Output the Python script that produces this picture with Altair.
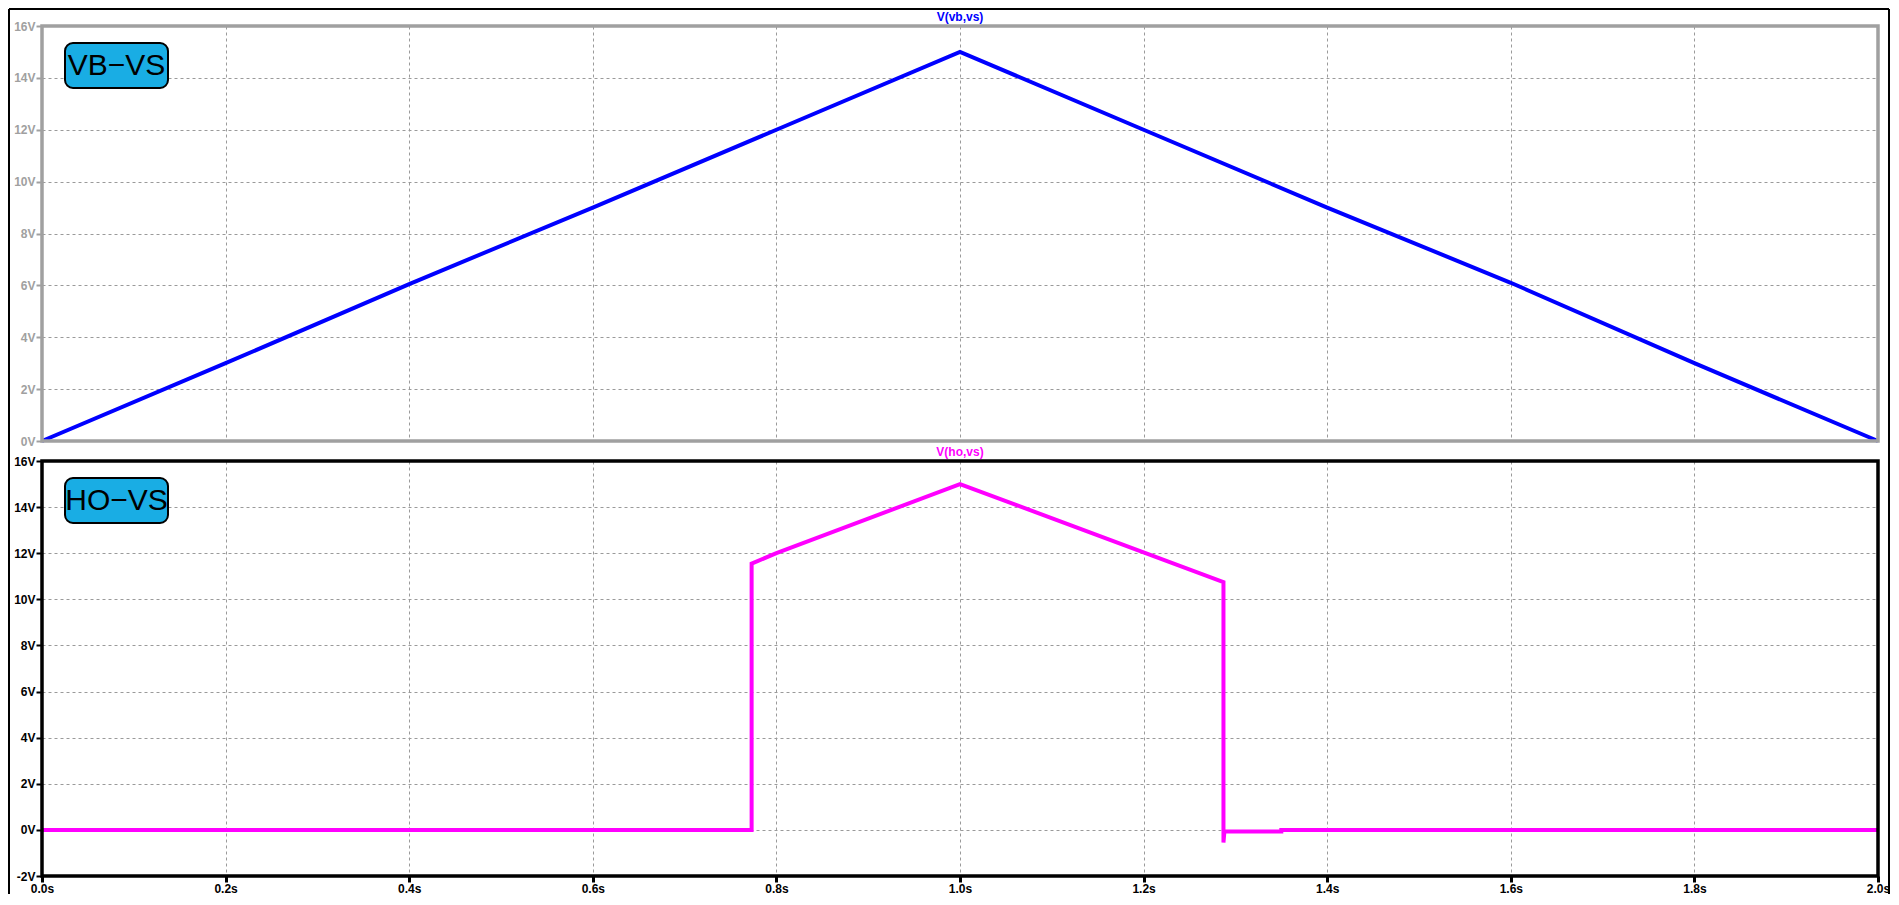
import altair as alt
import pandas as pd

# ---- data ----
# V(vb,vs)
top_t = [0.0, 0.2, 0.4, 0.6, 0.8, 1.0, 1.2, 1.4, 1.6, 1.8, 2.0]
top_v = [0.0, 3.0, 6.05, 9.0, 12.0, 15.0, 12.0, 9.0, 6.1, 3.0, 0.0]

# V(ho,vs)
bot_t = [0.0, 0.773, 0.773, 0.8, 1.0, 1.287, 1.287, 1.288, 1.35, 1.35, 2.0]
bot_v = [0.0, 0.0, 11.55, 12.0, 15.0, 10.75, -0.55, -0.07, -0.07, 0.0, 0.0]

x_ticks = [0.0, 0.2, 0.4, 0.6, 0.8, 1.0, 1.2, 1.4, 1.6, 1.8, 2.0]
y_ticks_top = [0, 2, 4, 6, 8, 10, 12, 14, 16]
y_ticks_bot = [-2, 0, 2, 4, 6, 8, 10, 12, 14, 16]

titles = ["V(vb,vs)", "V(ho,vs)"]
tags = ["VB\u2212VS", "HO\u2212VS"]

# ---- styling ----
W, H1, H2 = 1836, 415, 415
FONT = "Liberation Sans"
GRAY = "#a0a0a0"
BLUE = "#0000ff"
MAG = "#ff00ff"
TAGFILL = "#19ade4"
GRID = dict(grid=True, gridColor="#9a9a9a", gridDash=[3, 3], gridWidth=1)

xs = alt.Scale(domain=[0, 2], nice=False, zero=False)


def y_axis(vals, color):
    return alt.Axis(values=vals, labelExpr="datum.value + 'V'", labelFont=FONT,
                    labelFontWeight="bold", labelFontSize=12, labelColor=color,
                    tickColor=color, tickWidth=2, tickSize=6, labelPadding=1,
                    domain=False, title=None, **GRID)


def decorations(title, title_color, tag, border_color, h):
    tdf = pd.DataFrame({"t": [1.0], "label": [title]})
    title_mark = alt.Chart(tdf).mark_text(
        font=FONT, fontSize=12, fontWeight="bold", color=title_color, baseline="middle"
    ).encode(x=alt.X("t:Q", scale=xs), y=alt.value(-9), text="label:N")
    gdf = pd.DataFrame({"label": [tag]})
    border = alt.Chart(gdf).mark_rect(
        fillOpacity=0, stroke=border_color, strokeWidth=3.5
    ).encode(x=alt.value(0), x2=alt.value(W), y=alt.value(0), y2=alt.value(h))
    box = alt.Chart(gdf).mark_rect(
        fill=TAGFILL, stroke="black", strokeWidth=2, cornerRadius=8
    ).encode(x=alt.value(23), x2=alt.value(126), y=alt.value(17), y2=alt.value(62))
    txt = alt.Chart(gdf).mark_text(
        font=FONT, fontSize=30, color="black", baseline="middle", align="center"
    ).encode(x=alt.value(74.5), y=alt.value(40), text="label:N")
    return [border, title_mark, box, txt]


# top panel
top_df = pd.DataFrame({"t": top_t, "v": top_v, "i": list(range(len(top_t)))})
top_line = alt.Chart(top_df).mark_line(color=BLUE, strokeWidth=4).encode(
    x=alt.X("t:Q", scale=xs,
            axis=alt.Axis(values=x_ticks, labels=False, ticks=False, domain=False,
                          title=None, **GRID)),
    y=alt.Y("v:Q", scale=alt.Scale(domain=[0, 16], nice=False),
            axis=y_axis(y_ticks_top, GRAY)),
    order="i:Q",
)

fdf = pd.DataFrame({"k": [0]})
frame_left = alt.Chart(fdf).mark_rule(color="black", strokeWidth=2).encode(
    x=alt.value(-33), y=alt.value(-17), y2=alt.value(868))
frame_right = alt.Chart(fdf).mark_rule(color="black", strokeWidth=2).encode(
    x=alt.value(1847), y=alt.value(-17), y2=alt.value(868))
frame_top = alt.Chart(fdf).mark_rule(color="black", strokeWidth=2).encode(
    x=alt.value(-33), x2=alt.value(1847), y=alt.value(-17))

top = alt.layer(top_line, *decorations(titles[0], BLUE, tags[0], GRAY, H1),
                frame_left, frame_right, frame_top).properties(
    width=W, height=H1,
    view=alt.ViewBackground(stroke=None),
)

# bottom panel
bot_df = pd.DataFrame({"t": bot_t, "v": bot_v, "i": list(range(len(bot_t)))})
bot_line = alt.Chart(bot_df).mark_line(color=MAG, strokeWidth=4).encode(
    x=alt.X("t:Q", scale=xs,
            axis=alt.Axis(values=x_ticks, labelExpr="format(datum.value, '.1f') + 's'",
                          labelFont=FONT, labelFontWeight="bold", labelFontSize=12,
                          labelColor="black", tickColor="black", tickWidth=3, tickSize=6,
                          labelPadding=1, domain=False, title=None, labelFlush=False,
                          **GRID)),
    y=alt.Y("v:Q", scale=alt.Scale(domain=[-2, 16], nice=False),
            axis=y_axis(y_ticks_bot, "black")),
    order="i:Q",
)

bottom = alt.layer(bot_line, *decorations(titles[1], MAG, tags[1], "black", H2)).properties(
    width=W, height=H2,
    view=alt.ViewBackground(stroke=None),
)

chart = alt.vconcat(top, bottom, spacing=20, bounds="flush").properties(
    padding={"left": 0, "top": 0, "right": 0, "bottom": 0},
    background="white",
).resolve_scale(x="shared")

chart.save("out.html", embed_options={"renderer": "svg", "actions": False})
